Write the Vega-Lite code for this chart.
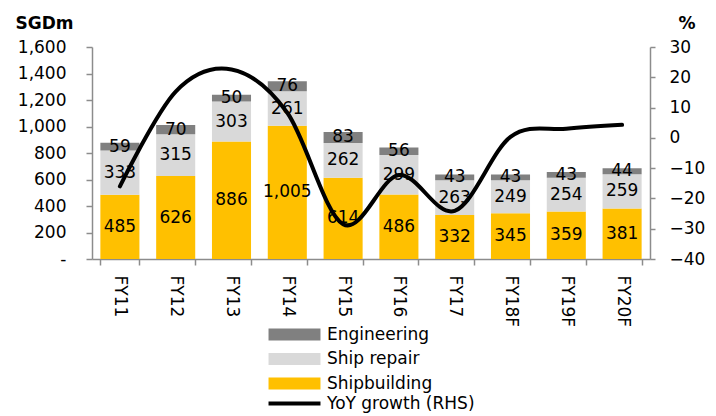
{
  "$schema": "https://vega.github.io/schema/vega-lite/v6.json",
  "width": 558,
  "height": 212,
  "autosize": "none",
  "padding": {"left": 92, "top": 47, "right": 66, "bottom": 157},
  "datasets": {
    "seg": [
      {"year": "FY11", "series": "Shipbuilding", "value": 485},
      {"year": "FY11", "series": "Ship repair", "value": 333},
      {"year": "FY11", "series": "Engineering", "value": 59},
      {"year": "FY12", "series": "Shipbuilding", "value": 626},
      {"year": "FY12", "series": "Ship repair", "value": 315},
      {"year": "FY12", "series": "Engineering", "value": 70},
      {"year": "FY13", "series": "Shipbuilding", "value": 886},
      {"year": "FY13", "series": "Ship repair", "value": 303},
      {"year": "FY13", "series": "Engineering", "value": 50},
      {"year": "FY14", "series": "Shipbuilding", "value": 1005},
      {"year": "FY14", "series": "Ship repair", "value": 261},
      {"year": "FY14", "series": "Engineering", "value": 76},
      {"year": "FY15", "series": "Shipbuilding", "value": 614},
      {"year": "FY15", "series": "Ship repair", "value": 262},
      {"year": "FY15", "series": "Engineering", "value": 83},
      {"year": "FY16", "series": "Shipbuilding", "value": 486},
      {"year": "FY16", "series": "Ship repair", "value": 299},
      {"year": "FY16", "series": "Engineering", "value": 56},
      {"year": "FY17", "series": "Shipbuilding", "value": 332},
      {"year": "FY17", "series": "Ship repair", "value": 263},
      {"year": "FY17", "series": "Engineering", "value": 43},
      {"year": "FY18F", "series": "Shipbuilding", "value": 345},
      {"year": "FY18F", "series": "Ship repair", "value": 249},
      {"year": "FY18F", "series": "Engineering", "value": 43},
      {"year": "FY19F", "series": "Shipbuilding", "value": 359},
      {"year": "FY19F", "series": "Ship repair", "value": 254},
      {"year": "FY19F", "series": "Engineering", "value": 43},
      {"year": "FY20F", "series": "Shipbuilding", "value": 381},
      {"year": "FY20F", "series": "Ship repair", "value": 259},
      {"year": "FY20F", "series": "Engineering", "value": 44}
    ],
    "growth": [
      {"year": "FY11", "growth": -16},
      {"year": "FY12", "growth": 15.3},
      {"year": "FY13", "growth": 22.6},
      {"year": "FY14", "growth": 8.3},
      {"year": "FY15", "growth": -28.5},
      {"year": "FY16", "growth": -12.3},
      {"year": "FY17", "growth": -24.1},
      {"year": "FY18F", "growth": 0.3},
      {"year": "FY19F", "growth": 3.0},
      {"year": "FY20F", "growth": 4.3}
    ]
  },
  "config": {
    "font": "DejaVu Sans",
    "view": {"stroke": null},
    "axis": {
      "grid": false,
      "domainColor": "#8c8c8c",
      "tickColor": "#8c8c8c",
      "domainWidth": 1.5,
      "tickWidth": 1.5,
      "labelColor": "#000000",
      "labelFontSize": 17,
      "labelFont": "DejaVu Sans",
      "labelOverlap": false
    },
    "legend": {
      "labelFontSize": 17,
      "labelFont": "DejaVu Sans",
      "labelColor": "#000000"
    }
  },
  "layer": [
    {
      "data": {"name": "seg"},
      "transform": [
        {"stack": "value", "groupby": ["year"], "sort": [{"field": "series", "order": "descending"}], "as": ["v0", "v1"]},
        {"calculate": "(datum.v0 + datum.v1) / 2", "as": "mid"}
      ],
      "encoding": {
        "x": {
          "field": "year", "type": "nominal",
          "sort": ["FY11","FY12","FY13","FY14","FY15","FY16","FY17","FY18F","FY19F","FY20F"],
          "scale": {"paddingInner": 0.3, "paddingOuter": 0.15},
          "axis": {"title": null, "labelAngle": 90, "labelAlign": "left", "labelBaseline": "middle", "labelPadding": 10, "tickBand": "extent", "tickSize": 6}
        }
      },
      "layer": [
        {
          "mark": {"type": "bar"},
          "encoding": {
            "y": {
              "field": "v1", "type": "quantitative",
              "scale": {"domain": [0, 1600], "nice": false},
              "axis": {
                "orient": "left",
                "values": [0, 200, 400, 600, 800, 1000, 1200, 1400, 1600],
                "labelExpr": "datum.value == 0 ? '-' : format(datum.value, ',')",
                "labelOverlap": false,
                "tickSize": 6,
                "labelPadding": 20,
                "title": "SGDm",
                "titleAngle": 0,
                "titleAlign": "left",
                "titleBaseline": "alphabetic",
                "titleX": -77,
                "titleY": -19,
                "titleFontSize": 17,
                "titleFontWeight": "bold",
                "titleFont": "DejaVu Sans",
                "titleColor": "#000000"
              }
            },
            "y2": {"field": "v0"},
            "color": {
              "field": "series", "type": "nominal",
              "scale": {"domain": ["Engineering", "Ship repair", "Shipbuilding"], "range": ["#808080", "#d9d9d9", "#ffc000"]},
              "legend": {
                "title": null,
                "orient": "none",
                "legendX": 194,
                "legendY": 279,
                "direction": "vertical",
                "padding": 0,
                "rowPadding": 6.5,
                "labelOffset": 24,
                "symbolType": "M-4.33,-1H4.33V1H-4.33Z",
                "symbolSize": 144,
                "symbolStrokeWidth": 0
              }
            }
          }
        },
        {
          "mark": {"type": "text", "fontSize": 17, "color": "#000000", "baseline": "middle", "align": "center"},
          "encoding": {
            "y": {
              "field": "mid", "type": "quantitative",
              "axis": {
                "orient": "left",
                "values": [0, 200, 400, 600, 800, 1000, 1200, 1400, 1600],
                "labelExpr": "datum.value == 0 ? '-' : format(datum.value, ',')",
                "labelOverlap": false,
                "tickSize": 6,
                "labelPadding": 20,
                "title": "SGDm",
                "titleAngle": 0,
                "titleAlign": "left",
                "titleBaseline": "alphabetic",
                "titleX": -77,
                "titleY": -19,
                "titleFontSize": 17,
                "titleFontWeight": "bold",
                "titleFont": "DejaVu Sans",
                "titleColor": "#000000"
              }
            },
            "text": {"field": "value", "type": "quantitative", "format": ","}
          }
        }
      ]
    },
    {
      "data": {"name": "growth"},
      "mark": {"type": "line", "interpolate": "cardinal", "strokeWidth": 4, "strokeCap": "round"},
      "encoding": {
        "x": {"field": "year", "type": "nominal", "sort": ["FY11","FY12","FY13","FY14","FY15","FY16","FY17","FY18F","FY19F","FY20F"]},
        "y": {
          "field": "growth", "type": "quantitative",
          "scale": {"domain": [-40, 30], "nice": false},
          "axis": {
            "orient": "right",
            "values": [-40, -30, -20, -10, 0, 10, 20, 30],
            "labelOverlap": false,
            "tickSize": 5,
            "labelPadding": 14,
            "title": "%",
            "titleAngle": 0,
            "titleAlign": "left",
            "titleBaseline": "alphabetic",
            "titleX": 28,
            "titleY": -19,
            "titleFontSize": 17,
            "titleFontWeight": "bold",
            "titleFont": "DejaVu Sans",
            "titleColor": "#000000"
          }
        },
        "stroke": {
          "datum": "YoY growth (RHS)",
          "scale": {"range": ["#000000"]},
          "legend": {
            "title": null,
            "orient": "none",
            "legendX": 194,
            "legendY": 348,
            "padding": 0,
            "labelOffset": 24,
            "symbolType": "M-4.33,0H4.33",
            "symbolSize": 144,
            "symbolStrokeWidth": 4
          }
        }
      }
    }
  ],
  "resolve": {"scale": {"y": "independent"}}
}
